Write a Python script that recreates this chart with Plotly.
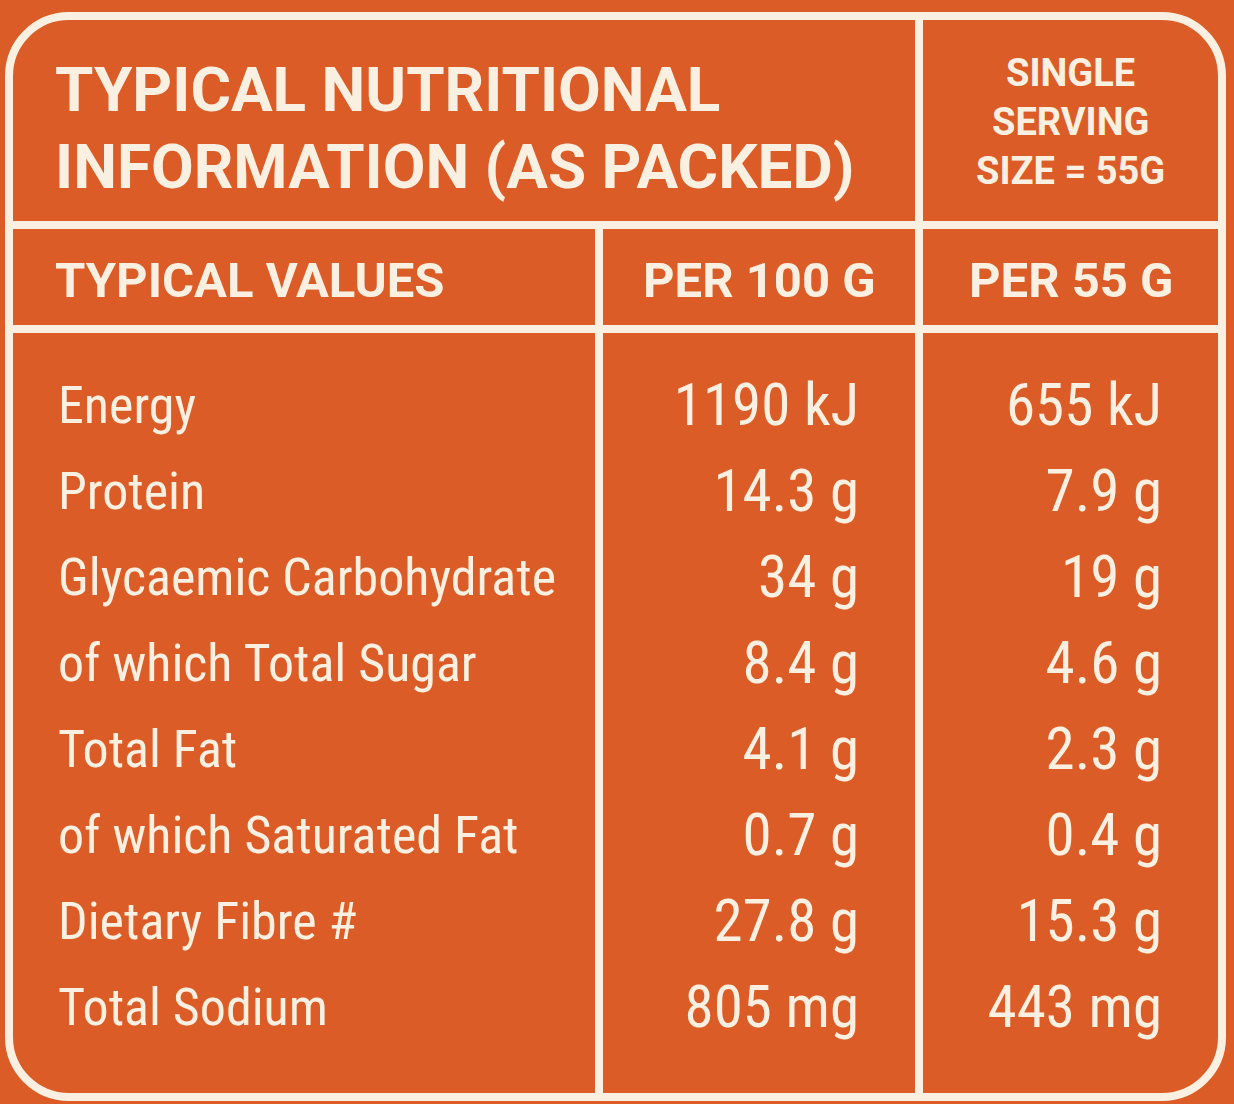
import plotly.graph_objects as go

# ---- data ----
nutrients = ["Energy", "Protein", "Glycaemic Carbohydrate", "of which Total Sugar",
             "Total Fat", "of which Saturated Fat", "Dietary Fibre #", "Total Sodium"]
per_100g = ["1190 kJ", "14.3 g", "34 g", "8.4 g", "4.1 g", "0.7 g", "27.8 g", "805 mg"]
per_55g = ["655 kJ", "7.9 g", "19 g", "4.6 g", "2.3 g", "0.4 g", "15.3 g", "443 mg"]
title_lines = ["TYPICAL NUTRITIONAL", "INFORMATION (AS PACKED)"]
serving_lines = ["SINGLE", "SERVING", "SIZE = 55G"]
col_headers = ["TYPICAL VALUES", "PER 100 G", "PER 55 G"]

# ---- style ----
BG = "#DC5C28"
CREAM = "#FAF0E1"
W, H = 1234, 1104
BODY_FONT = "Roboto Condensed, Liberation Sans Narrow, DejaVu Sans Condensed"
HEAD_FONT = "Roboto, DejaVu Sans"
LW = 8

# layout geometry (pixels)
X0, Y0, X1, Y1, R = 9, 16, 1222, 1097, 60
HL1, HL2 = 225, 329
VL1, VL2 = 599, 919
ROW0, PITCH = 410, 86.0
LABEL_X, C1_RIGHT, C2_RIGHT = 58, 859, 1162

rows = list(range(len(nutrients)))

fig = go.Figure()
fig.add_trace(go.Scatter(x=[LABEL_X] * len(rows), y=rows, mode="text", text=nutrients,
                         textposition="middle right", yaxis="y2",
                         textfont=dict(family=BODY_FONT, size=52, color=CREAM),
                         hoverinfo="skip"))
fig.add_trace(go.Scatter(x=[C1_RIGHT] * len(rows), y=rows, mode="text", text=per_100g,
                         textposition="middle left", yaxis="y2",
                         textfont=dict(family=BODY_FONT, size=59, color=CREAM),
                         hoverinfo="skip"))
fig.add_trace(go.Scatter(x=[C2_RIGHT] * len(rows), y=rows, mode="text", text=per_55g,
                         textposition="middle left", yaxis="y2",
                         textfont=dict(family=BODY_FONT, size=59, color=CREAM),
                         hoverinfo="skip"))

k = 0.5523 * R
path = (f"M {X0+R},{Y0} L {X1-R},{Y0} C {X1-R+k},{Y0} {X1},{Y0+R-k} {X1},{Y0+R} "
        f"L {X1},{Y1-R} C {X1},{Y1-R+k} {X1-R+k},{Y1} {X1-R},{Y1} "
        f"L {X0+R},{Y1} C {X0+R-k},{Y1} {X0},{Y1-R+k} {X0},{Y1-R} "
        f"L {X0},{Y0+R} C {X0},{Y0+R-k} {X0+R-k},{Y0} {X0+R},{Y0} Z")
line = dict(color=CREAM, width=LW)
shapes = [
    dict(type="path", path=path, xref="x", yref="y", line=line),
    dict(type="line", x0=X0, x1=X1, y0=HL1, y1=HL1, xref="x", yref="y", line=line),
    dict(type="line", x0=X0, x1=X1, y0=HL2, y1=HL2, xref="x", yref="y", line=line),
    dict(type="line", x0=VL2, x1=VL2, y0=Y0, y1=Y1, xref="x", yref="y", line=line),
    dict(type="line", x0=VL1, x1=VL1, y0=HL1, y1=Y1, xref="x", yref="y", line=line),
]

ann = []
for txt, yc in zip(title_lines, [89, 166]):
    ann.append(dict(text=txt, x=53, y=yc, xref="x", yref="y", xanchor="left", yanchor="middle",
                    showarrow=False, font=dict(family=HEAD_FONT, size=62, color=CREAM, weight="bold")))
for txt, yc in zip(serving_lines, [73, 122, 171]):
    ann.append(dict(text=txt, x=1070, y=yc, xref="x", yref="y", xanchor="center", yanchor="middle",
                    showarrow=False, font=dict(family=HEAD_FONT, size=38, color=CREAM, weight="bold")))
for txt, xc, anc in zip(col_headers, [53, 759, 1071], ["left", "center", "center"]):
    ann.append(dict(text=txt, x=xc, y=280, xref="x", yref="y", xanchor=anc, yanchor="middle",
                    showarrow=False, font=dict(family=HEAD_FONT, size=49, color=CREAM, weight="bold")))

fig.update_layout(
    width=W, height=H, margin=dict(l=0, r=0, t=0, b=0),
    paper_bgcolor=BG, plot_bgcolor=BG, showlegend=False,
    xaxis=dict(range=[0, W], visible=False, fixedrange=True),
    yaxis=dict(range=[H, 0], visible=False, fixedrange=True),
    yaxis2=dict(range=[(H - ROW0) / PITCH, (0 - ROW0) / PITCH], visible=False,
                overlaying="y", fixedrange=True),
    shapes=shapes, annotations=ann,
)
fig.write_html("out.html", config={"displayModeBar": False},
               post_script="document.body.style.margin='0';")
